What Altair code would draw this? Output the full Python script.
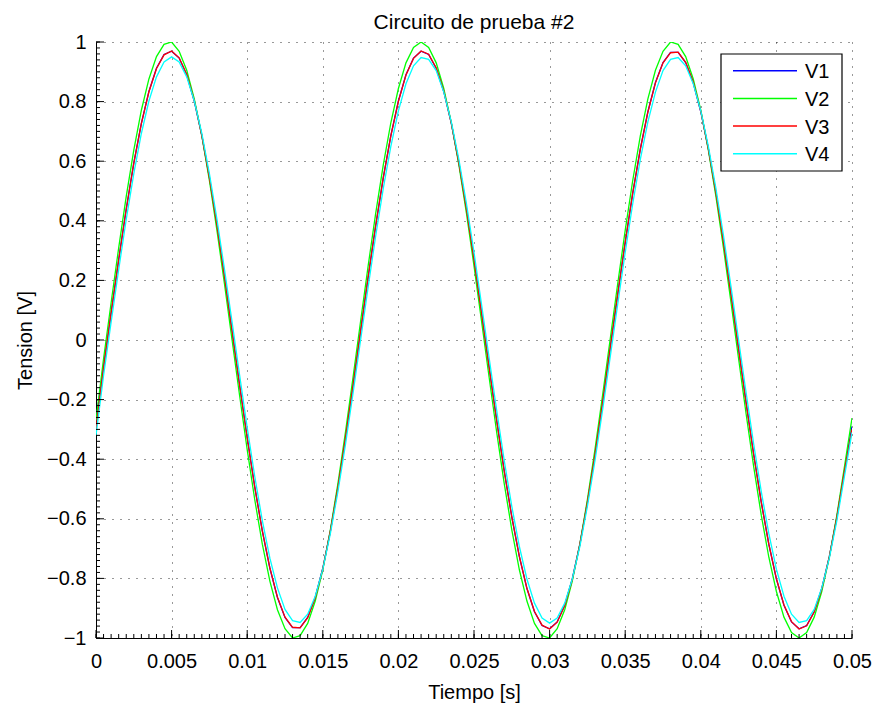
import altair as alt
import pandas as pd

# sample times (s), step 0.0005
t = [round(i * 0.0005, 4) for i in range(101)]

V1 = [-0.270, -0.091, 0.091, 0.270, 0.440, 0.594, 0.727, 0.834, 0.912, 0.958,
      0.969, 0.946, 0.890, 0.802, 0.686, 0.545, 0.385, 0.212, 0.030, -0.152,
      -0.328, -0.494, -0.641, -0.766, -0.864, -0.931, -0.965, -0.965, -0.931, -0.864,
      -0.766, -0.641, -0.494, -0.328, -0.152, 0.030, 0.212, 0.385, 0.545, 0.686,
      0.802, 0.890, 0.946, 0.969, 0.958, 0.912, 0.834, 0.727, 0.594, 0.440,
      0.270, 0.091, -0.091, -0.270, -0.440, -0.594, -0.727, -0.834, -0.912, -0.958,
      -0.969, -0.946, -0.890, -0.802, -0.686, -0.545, -0.385, -0.212, -0.030, 0.152,
      0.328, 0.494, 0.641, 0.766, 0.864, 0.931, 0.965, 0.965, 0.931, 0.864,
      0.766, 0.641, 0.494, 0.328, 0.152, -0.030, -0.212, -0.385, -0.545, -0.686,
      -0.802, -0.890, -0.946, -0.969, -0.958, -0.912, -0.834, -0.727, -0.594, -0.440,
      -0.290]

V2 = [-0.270, -0.063, 0.125, 0.309, 0.482, 0.637, 0.771, 0.876, 0.951, 0.992,
      1.000, 0.969, 0.905, 0.809, 0.685, 0.536, 0.368, 0.187, 0.000, -0.187,
      -0.368, -0.536, -0.685, -0.809, -0.905, -0.969, -1.000, -0.992, -0.951, -0.876,
      -0.771, -0.637, -0.482, -0.309, -0.125, 0.063, 0.249, 0.426, 0.588, 0.729,
      0.844, 0.930, 0.982, 1.000, 0.982, 0.930, 0.844, 0.729, 0.588, 0.426,
      0.249, 0.063, -0.125, -0.309, -0.482, -0.637, -0.771, -0.876, -0.951, -0.992,
      -1.000, -0.969, -0.905, -0.809, -0.685, -0.536, -0.368, -0.187, 0.000, 0.187,
      0.368, 0.536, 0.685, 0.809, 0.905, 0.969, 1.000, 0.992, 0.951, 0.876,
      0.771, 0.637, 0.482, 0.309, 0.125, -0.063, -0.249, -0.426, -0.588, -0.729,
      -0.844, -0.930, -0.982, -1.000, -0.982, -0.930, -0.844, -0.729, -0.588, -0.426,
      -0.262]

V3 = [-0.300, -0.093, 0.090, 0.268, 0.438, 0.593, 0.726, 0.833, 0.911, 0.957,
      0.970, 0.947, 0.891, 0.803, 0.687, 0.546, 0.386, 0.213, 0.031, -0.151,
      -0.327, -0.493, -0.640, -0.765, -0.863, -0.930, -0.964, -0.966, -0.932, -0.865,
      -0.767, -0.642, -0.495, -0.329, -0.153, 0.029, 0.211, 0.384, 0.544, 0.685,
      0.801, 0.889, 0.945, 0.970, 0.959, 0.913, 0.835, 0.728, 0.595, 0.441,
      0.271, 0.092, -0.090, -0.269, -0.439, -0.593, -0.726, -0.833, -0.911, -0.957,
      -0.970, -0.947, -0.891, -0.803, -0.687, -0.546, -0.386, -0.213, -0.031, 0.151,
      0.327, 0.493, 0.640, 0.765, 0.863, 0.930, 0.964, 0.966, 0.932, 0.865,
      0.767, 0.642, 0.495, 0.329, 0.153, -0.029, -0.211, -0.384, -0.544, -0.685,
      -0.801, -0.889, -0.945, -0.970, -0.959, -0.913, -0.835, -0.728, -0.595, -0.441,
      -0.300]

V4 = [-0.320, -0.119, 0.060, 0.236, 0.405, 0.558, 0.693, 0.802, 0.883, 0.933,
      0.950, 0.933, 0.883, 0.802, 0.693, 0.558, 0.405, 0.236, 0.060, -0.119,
      -0.294, -0.458, -0.606, -0.732, -0.832, -0.904, -0.942, -0.948, -0.920, -0.860,
      -0.769, -0.650, -0.509, -0.350, -0.178, 0.000, 0.178, 0.350, 0.509, 0.650,
      0.769, 0.860, 0.920, 0.948, 0.942, 0.904, 0.832, 0.732, 0.606, 0.458,
      0.294, 0.119, -0.060, -0.236, -0.405, -0.558, -0.693, -0.802, -0.883, -0.933,
      -0.950, -0.933, -0.883, -0.802, -0.693, -0.558, -0.405, -0.236, -0.060, 0.119,
      0.294, 0.458, 0.606, 0.732, 0.832, 0.904, 0.942, 0.948, 0.920, 0.860,
      0.769, 0.650, 0.509, 0.350, 0.178, 0.000, -0.178, -0.350, -0.509, -0.650,
      -0.769, -0.860, -0.920, -0.948, -0.942, -0.904, -0.832, -0.732, -0.606, -0.458,
      -0.310]

series_names = ["V1", "V2", "V3", "V4"]
series_colors = ["#0000ff", "#00ff00", "#ff0000", "#00ffff"]

title_text = "Circuito de prueba #2"
x_title = "Tiempo [s]"
y_title = "Tension [V]"
x_ticks = [0, 0.005, 0.01, 0.015, 0.02, 0.025, 0.03, 0.035, 0.04, 0.045, 0.05]
y_ticks = [-1, -0.8, -0.6, -0.4, -0.2, 0, 0.2, 0.4, 0.6, 0.8, 1]
x_minor = [round(i * 0.0005, 4) for i in range(101)]
y_minor = [round(-1 + i * 0.02, 2) for i in range(101)]

rows = []
for name, vals in zip(series_names, [V1, V2, V3, V4]):
    for tt, v in zip(t, vals):
        rows.append({"t": tt, "v": v, "serie": name})
df = pd.DataFrame(rows)

W, H = 756, 596
FONT = "Liberation Sans"
xscale = alt.Scale(domain=[0, 0.05], nice=False, zero=False)
yscale = alt.Scale(domain=[-1, 1], nice=False, zero=False)
cscale = alt.Scale(domain=series_names, range=series_colors)

axis_common = dict(
    grid=True, gridColor="#000000", gridDash=[1, 7], gridOpacity=0.8, gridWidth=1,
    domainColor="#000000", domainWidth=1, ticks=False, tickSize=0,
    labelFont=FONT, labelFontSize=20, labelColor="#000000",
    titleFont=FONT, titleFontSize=20, titleColor="#000000", titleFontWeight="normal",
    format="~g", labelOverlap=False, labelFlush=False,
)
x_axis = alt.Axis(values=x_ticks, title=x_title, labelPadding=13,
                  titleBaseline="alphabetic", titleY=60, titleX=W / 2, **axis_common)
y_axis = alt.Axis(values=y_ticks, title=y_title, labelPadding=10,
                  titleBaseline="alphabetic", titleX=-65, titleY=H / 2,
                  titleAngle=270, **axis_common)

lines = alt.Chart(df).mark_line(strokeWidth=1.3, clip=True).encode(
    x=alt.X("t:Q", scale=xscale, axis=x_axis),
    y=alt.Y("v:Q", scale=yscale, axis=y_axis),
    color=alt.Color("serie:N", scale=cscale, legend=None),
)

def xrule(vals, length):
    return alt.Chart(pd.DataFrame({"t": vals})).mark_rule(color="#000000", strokeWidth=1).encode(
        x=alt.X("t:Q", scale=xscale, axis=x_axis), y=alt.value(H), y2=alt.value(H - length))

def yrule(vals, length):
    return alt.Chart(pd.DataFrame({"v": vals})).mark_rule(color="#000000", strokeWidth=1).encode(
        y=alt.Y("v:Q", scale=yscale, axis=y_axis), x=alt.value(0), x2=alt.value(length))

layers = [lines, xrule(x_minor, 4), xrule(x_ticks, 8), yrule(y_minor, 4), yrule(y_ticks, 8)]

# title
title_df = pd.DataFrame({"label": [title_text]})
layers.append(alt.Chart(title_df).mark_text(font=FONT, fontSize=21, color="#000000",
                                            align="center", baseline="alphabetic").encode(
    x=alt.value(W / 2), y=alt.value(-13), text="label:N"))

# legend (box, line samples, labels)
legend_df = pd.DataFrame({"serie": series_names})
layers.append(alt.Chart(pd.DataFrame({"k": [0]})).mark_rect(
    fill="#ffffff", stroke="#000000", strokeWidth=1.2).encode(
    x=alt.value(625), x2=alt.value(746), y=alt.value(12), y2=alt.value(129)))
for i, name in enumerate(series_names):
    yy = 28.7 + 27.7 * i
    base = alt.Chart(legend_df).transform_filter(alt.datum.serie == name)
    layers.append(base.mark_rule(strokeWidth=1.5, color=series_colors[i]).encode(
        x=alt.value(637), x2=alt.value(701), y=alt.value(yy)))
    layers.append(base.mark_text(font=FONT, fontSize=20, color="#000000",
                                 align="left", baseline="middle").encode(
        x=alt.value(709), y=alt.value(yy + 1.5), text="serie:N"))

chart = alt.layer(*layers).properties(
    width=W, height=H,
    background="#ffffff",
    autosize=alt.AutoSizeParams(type="none"),
    padding={"left": 96, "top": 42, "right": 27, "bottom": 66},
).configure_view(stroke=None)

chart.save("out.html", embed_options={"renderer": "svg", "actions": False})
